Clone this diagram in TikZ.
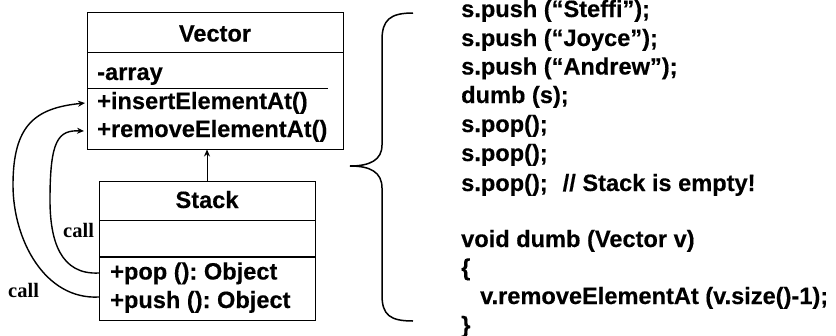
\documentclass[tikz,border=0pt]{standalone}
\usepackage{fontspec}
\setmainfont{Liberation Sans}[BoldFeatures={FakeBold=0.35}]
\newfontfamily\callfont{Liberation Serif}
\usetikzlibrary{arrows.meta}
\frenchspacing
\tikzset{
  umlbox/.style={draw, line width=1pt, rectangle, inner sep=0pt},
  divider/.style={line width=1pt},
  thickdivider/.style={line width=2pt},
  lbl/.style={font=\fontsize{23.6}{28}\selectfont\bfseries\frenchspacing, inner sep=0pt, anchor=base west},
  ttl/.style={font=\fontsize{23.6}{28}\selectfont\bfseries, inner sep=0pt, anchor=base},
  calllbl/.style={font=\callfont\fontsize{20.5}{24}\selectfont\bfseries, inner sep=0pt, anchor=base west},
  callarrow/.style={line width=1.4pt, -{Stealth[length=7pt,width=6pt]}},
  inherit/.style={line width=1pt, -{Stealth[length=7pt,width=6pt]}},
  bracestyle/.style={line width=1.5pt},
}
\begin{document}
\begin{tikzpicture}[x=1pt,y=-1pt]
\useasboundingbox (0,0) rectangle (836,335);
% Vector class
\node[umlbox, minimum width=256pt, minimum height=137pt] (vector) at (215,80.5) {};
\draw[divider] (87,52) -- (343,52);
\draw[divider] (87,88) -- (328,88);
\node[ttl] (vtitle) at (215,41.5) {Vector};
\node[lbl] (varray) at (97,80) {-array};
\node[lbl] (insert) at (97,109) {+insertElementAt()};
\node[lbl] (remove) at (97,137) {+removeElementAt()};
% Stack class
\node[umlbox, minimum width=216pt, minimum height=139pt] (stack) at (207,250.5) {};
\draw[divider] (99,220) -- (315,220);
\draw[thickdivider] (99,257) -- (315,257);
\node[ttl] (stitle) at (207,208) {Stack};
\node[lbl] (pop) at (110,279.5) {+pop (): Object};
\node[lbl] (push) at (110,308) {+push (): Object};
% inheritance
\draw[inherit] (stack.north) -- (stack.north |- vector.south);
% call arrows
\coordinate (popsrc) at (99,273);
\coordinate (pushsrc) at (99,297);
\coordinate (inserttgt) at (85,103);
\coordinate (removetgt) at (84,131);
\draw[callarrow] (pushsrc) .. controls (45,300) and (13,240) .. (13,185)
                 .. controls (13,125) and (35,108) .. (inserttgt);
\draw[callarrow] (popsrc) .. controls (60,275) and (50,240) .. (50,200)
                 .. controls (50,140) and (58,130) .. (removetgt);
\node[calllbl] (call1) at (63,237) {call};
\node[calllbl] (call2) at (8,297) {call};
% brace
\draw[bracestyle] (413,13) .. controls (390,13) and (382,20) .. (382,40)
  -- (382,145) .. controls (382,160) and (370,166) .. (350,166)
  .. controls (370,166) and (382,172) .. (382,188)
  -- (382,295) .. controls (382,315) and (390,321) .. (413,321);
% code
\node[lbl] (c1) at (461,17) {s.push (“Steffi”);};
\node[lbl] (c2) at (461,46) {s.push (“Joyce”);};
\node[lbl] (c3) at (461,74.5) {s.push (“Andrew”);};
\node[lbl] (c4) at (461,103) {dumb (s);};
\node[lbl] (c5) at (461,132) {s.pop();};
\node[lbl] (c6) at (461,161) {s.pop();};
\node[lbl] (c7) at (461,191) {s.pop();\hspace{15pt}// Stack is empty!};
\node[lbl] (c8) at (461,247) {void dumb (Vector v)};
\node[lbl] (c9) at (461,275.5) {\{};
\node[lbl] (c10) at (461,304) {\hspace*{19pt}v.removeElementAt (v.size()-1);};
\node[lbl] (c11) at (461,333) {\}};
\end{tikzpicture}
\end{document}
